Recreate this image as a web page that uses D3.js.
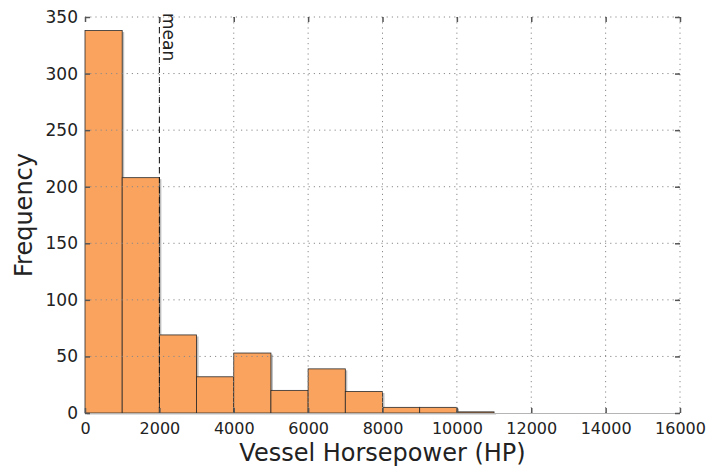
<!DOCTYPE html>
<html>
<head>
<meta charset="utf-8">
<script src="https://cdn.jsdelivr.net/npm/d3@7"></script>
<style>
  body { margin: 0; background: #fff; }
  text { font-family: "DejaVu Sans", sans-serif; fill: #222; }
</style>
</head>
<body>
<svg id="chart"></svg>
<script>
// histogram bins (HP) and counts
let binStarts = [0, 1000, 2000, 3000, 4000, 5000, 6000, 7000, 8000, 9000, 10000];
let binWidth = 1000;
let counts = [338, 208, 69, 32, 53, 20, 39, 19, 5, 5, 1];
let meanHP = 2000;
let xTicks = [0, 2000, 4000, 6000, 8000, 10000, 12000, 14000, 16000];
let yTicks = [0, 50, 100, 150, 200, 250, 300, 350];

let width = 709, height = 472;
let margin = { top: 17, right: 29, bottom: 59, left: 85 };
let w = width - margin.left - margin.right,
    h = height - margin.top - margin.bottom;

let svg = d3.select('#chart')
	.attr('width', width)
	.attr('height', height);

let g = svg.append('g')
	.attr('transform', 'translate(' + margin.left + ',' + margin.top + ')');

let x = d3.scaleLinear().domain([0, 16000]).range([0, w]);
let y = d3.scaleLinear().domain([0, 350]).range([h, 0]);

let bins = binStarts.map((s, i) => ({ x0: s, x1: s + binWidth, n: counts[i] }));

// shadow
g.selectAll('rect.shadow')
	.data(bins)
	.enter().append('rect')
		.attr('class', 'shadow')
		.attr('x', d => x(d.x0) + 2)
		.attr('y', d => y(d.n) + 1.5)
		.attr('width', d => x(d.x1) - x(d.x0))
		.attr('height', d => h - y(d.n))
		.attr('fill', '#000')
		.attr('fill-opacity', 0.25);

g.selectAll('rect.bar')
	.data(bins)
	.enter().append('rect')
		.attr('class', 'bar')
		.attr('x', d => x(d.x0))
		.attr('y', d => y(d.n))
		.attr('width', d => x(d.x1) - x(d.x0))
		.attr('height', d => h - y(d.n))
		.attr('fill', '#faa35e')
		.attr('stroke', '#2a2a2a')
		.attr('stroke-width', 0.8);

// grid (drawn over the bars, dotted)
let grid = g.append('g').attr('stroke', '#8a8a8a').attr('stroke-width', 1)
	.attr('stroke-dasharray', '1.2,4');
grid.selectAll('line.gx')
	.data(xTicks.slice(1))
	.enter().append('line')
		.attr('x1', d => x(d)).attr('x2', d => x(d))
		.attr('y1', 0).attr('y2', h);
grid.selectAll('line.gy')
	.data(yTicks.slice(1))
	.enter().append('line')
		.attr('x1', 0).attr('x2', w)
		.attr('y1', d => y(d)).attr('y2', d => y(d));

// bottom spine
g.append('line')
	.attr('x1', 0).attr('x2', w)
	.attr('y1', h + 0.5).attr('y2', h + 0.5)
	.attr('stroke', '#b5b5b5').attr('stroke-width', 1.2);

// mean line
g.append('line')
	.attr('x1', x(meanHP)).attr('x2', x(meanHP))
	.attr('y1', 0).attr('y2', h)
	.attr('stroke', '#111')
	.attr('stroke-width', 1)
	.attr('stroke-dasharray', '6,4');

g.append('text')
	.attr('transform', 'translate(' + (x(meanHP) + 4) + ',' + (-4) + ') rotate(90)')
	.attr('font-size', 17)
	.text('mean');

// axes, ticks inward on all four sides
let tickLen = 5;
let axB = g.append('g').attr('transform', 'translate(0,' + h + ')')
	.call(d3.axisBottom(x).tickValues(xTicks).tickSizeInner(-tickLen).tickSizeOuter(0).tickPadding(10).tickFormat(d3.format('d')));
let axT = g.append('g')
	.call(d3.axisTop(x).tickValues(xTicks).tickSizeInner(-tickLen).tickSizeOuter(0).tickFormat(''));
let axL = g.append('g')
	.call(d3.axisLeft(y).tickValues(yTicks).tickSizeInner(-tickLen).tickSizeOuter(0).tickPadding(7));
let axR = g.append('g').attr('transform', 'translate(' + w + ',0)')
	.call(d3.axisRight(y).tickValues(yTicks).tickSizeInner(-tickLen).tickSizeOuter(0).tickFormat(''));

[axB, axT, axL, axR].forEach(a => {
	a.select('.domain').remove();
	a.selectAll('.tick line').attr('stroke', '#555').attr('stroke-width', 1.5);
	a.selectAll('.tick text').attr('font-family', '"DejaVu Sans", sans-serif').attr('fill', '#222');
});
axB.selectAll('.tick text').attr('font-size', 16);
axL.selectAll('.tick text').attr('font-size', 17);

// axis titles
svg.append('text')
	.attr('x', margin.left + w / 2)
	.attr('y', 461)
	.attr('text-anchor', 'middle')
	.attr('font-size', 24)
	.text('Vessel Horsepower (HP)');

svg.append('text')
	.attr('transform', 'translate(32,' + (margin.top + h / 2) + ') rotate(-90)')
	.attr('text-anchor', 'middle')
	.attr('font-size', 24)
	.text('Frequency');
</script>
</body>
</html>
